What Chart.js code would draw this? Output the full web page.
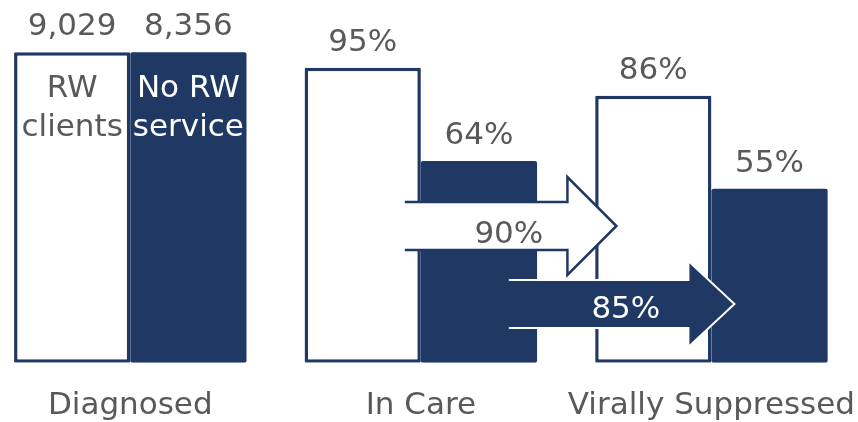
<!DOCTYPE html>
<html>
<head>
<meta charset="utf-8">
<script src="https://cdn.jsdelivr.net/npm/chart.js@4"></script>
<style>
  html, body { margin: 0; padding: 0; background: #fff; overflow: hidden; }
  #wrap { position: absolute; left: -15px; top: 0; width: 895px; height: 450px; }
</style>
</head>
<body>
<div id="wrap"><canvas id="cascade"></canvas></div>
<script>
const categories = ["Diagnosed", "In Care", "Virally Suppressed"];
const rwClients = [100, 95, 86];
const noRwService = [100, 65, 56];
const rwLabels = ["9,029", "95%", "86%"];
const noRwLabels = ["8,356", "64%", "55%"];
const seriesNames = [["RW", "clients"], ["No RW", "service"]];
const arrowLabels = ["90%", "85%"];

const NAVY = "#203864";
const GREY = "#595959";
const FONT = "DejaVu Sans";

// arrows between In Care and Virally Suppressed
const arrowPlugin = {
  id: "arrows",
  afterDatasetsDraw(chart) {
    const ctx = chart.ctx;
    const x = chart.scales.x;
    const c1 = x.getPixelForValue(1);
    const c2 = x.getPixelForValue(2);

    function arrow(left, headStart, tip, cy, shaftH, headH, fill, stroke, lw) {
      ctx.save();
      ctx.beginPath();
      ctx.moveTo(left, cy - shaftH);
      ctx.lineTo(headStart, cy - shaftH);
      ctx.lineTo(headStart, cy - headH);
      ctx.lineTo(tip, cy);
      ctx.lineTo(headStart, cy + headH);
      ctx.lineTo(headStart, cy + shaftH);
      ctx.lineTo(left, cy + shaftH);
      ctx.fillStyle = fill;
      ctx.fill();
      ctx.strokeStyle = stroke;
      ctx.lineWidth = lw;
      ctx.lineJoin = "miter";
      ctx.stroke();
      ctx.restore();
    }

    arrow(c1 - 16, c2 - 144, c2 - 95, 226, 24, 49, "#ffffff", NAVY, 2.5);
    arrow(c1 + 88, c2 - 23, c2 + 23, 304, 24, 43, NAVY, "#ffffff", 2);

    ctx.save();
    ctx.font = "31px '" + FONT + "'";
    ctx.textAlign = "center";
    ctx.textBaseline = "alphabetic";
    ctx.fillStyle = GREY;
    ctx.fillText(arrowLabels[0], c1 + 88, 243);
    ctx.fillStyle = "#ffffff";
    ctx.fillText(arrowLabels[1], c1 + 205, 318);
    ctx.restore();
  }
};

// value labels on top of bars + series names inside Diagnosed bars
const labelPlugin = {
  id: "barLabels",
  afterDraw(chart) {
    const ctx = chart.ctx;
    const sets = [rwLabels, noRwLabels];
    ctx.save();
    ctx.font = "31px '" + FONT + "'";
    ctx.textAlign = "center";
    ctx.textBaseline = "alphabetic";
    chart.data.datasets.forEach((ds, di) => {
      const meta = chart.getDatasetMeta(di);
      meta.data.forEach((bar, i) => {
        ctx.fillStyle = GREY;
        ctx.fillText(sets[di][i], bar.x, bar.y - 17);
      });
      const first = meta.data[0];
      ctx.fillStyle = di === 0 ? GREY : "#ffffff";
      ctx.fillText(seriesNames[di][0], first.x, first.y + 45);
      ctx.fillText(seriesNames[di][1], first.x, first.y + 84);
    });
    ctx.restore();
  }
};

new Chart(document.getElementById("cascade"), {
  type: "bar",
  data: {
    labels: categories,
    datasets: [
      {
        label: "RW clients",
        data: rwClients,
        backgroundColor: "#ffffff",
        borderColor: NAVY,
        borderWidth: 3.5,
        borderRadius: 1,
        borderSkipped: false
      },
      {
        label: "No RW service",
        data: noRwService,
        backgroundColor: NAVY,
        borderColor: NAVY,
        borderWidth: 0,
        borderRadius: 2,
        borderSkipped: false
      }
    ]
  },
  options: {
    responsive: true,
    maintainAspectRatio: false,
    animation: false,
    events: [],
    layout: { padding: { top: 0, bottom: 0, left: 0, right: 0 } },
    datasets: {
      bar: { barPercentage: 1, categoryPercentage: 0.8 }
    },
    plugins: {
      legend: { display: false },
      tooltip: { enabled: false }
    },
    scales: {
      x: {
        grid: { display: false, drawTicks: false },
        border: { display: false },
        ticks: {
          color: GREY,
          font: { family: FONT, size: 31 },
          padding: 25,
          maxRotation: 0,
          autoSkip: false
        }
      },
      y: {
        display: false,
        min: 0,
        max: 116.8
      }
    }
  },
  plugins: [arrowPlugin, labelPlugin]
});
</script>
</body>
</html>
